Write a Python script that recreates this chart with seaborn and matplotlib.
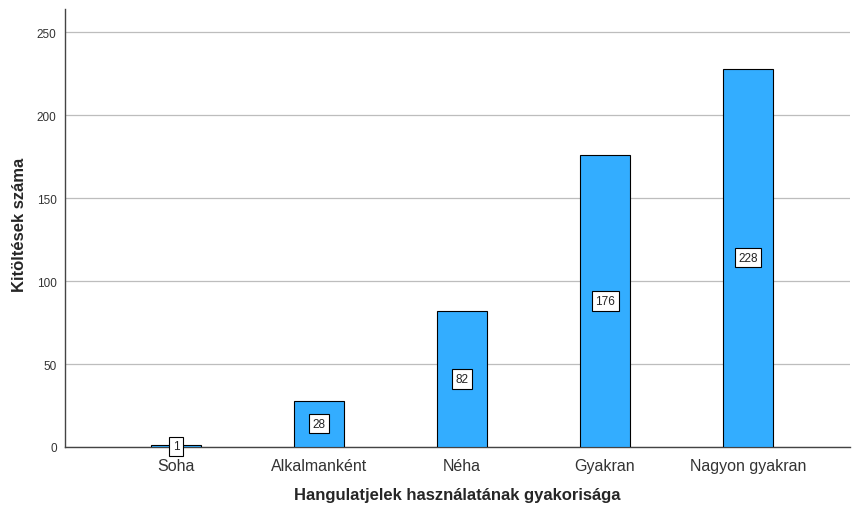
import pandas as pd
import matplotlib
matplotlib.use("Agg")
import matplotlib.pyplot as plt
import seaborn as sns

# --- Data ---
categories = ["Soha", "Alkalmanként", "Néha", "Gyakran", "Nagyon gyakran"]
counts = [1, 28, 82, 176, 228]
y_ticks = [0, 50, 100, 150, 200, 250]

X_LABEL = "Hangulatjelek használatának gyakorisága"
Y_LABEL = "Kitöltések száma"
BAR_COLOR = "#33ADFF"

sns.set_style("white")
plt.rcParams["font.family"] = ["Liberation Sans", "DejaVu Sans"]

df = pd.DataFrame({"cat": categories, "n": counts})

fig = plt.figure(figsize=(8.52, 5.10), dpi=100)
ax = fig.add_axes([0.0763, 0.1216, 0.9214, 0.8588])

sns.barplot(data=df, x="cat", y="n", order=categories, color=BAR_COLOR,
            saturation=1, width=0.35, edgecolor="black", linewidth=0.8,
            ax=ax, zorder=3)

ax.set_ylim(0, 264)
ax.set_xlim(-0.776, 4.713)
ax.set_yticks(y_ticks)
ax.yaxis.grid(True, color="#BDBDBD", linewidth=0.9, zorder=0)
ax.set_axisbelow(True)

# value labels in white boxes at mid-height of each bar
for i, v in enumerate(counts):
    ax.text(i, v / 2, str(v), ha="center", va="center", fontsize=8.5,
            color="#222222", zorder=5,
            bbox=dict(boxstyle="square,pad=0.3", fc="white", ec="black", lw=0.8))

ax.tick_params(axis="x", labelsize=11.5, length=0, pad=8, colors="#333333")
ax.tick_params(axis="y", labelsize=8.5, length=0, pad=6, colors="#333333")
ax.set_xlabel(X_LABEL, fontsize=12, fontweight="bold")
ax.set_ylabel(Y_LABEL, fontsize=12, fontweight="bold")
ax.yaxis.set_label_coords(-0.049, 0.51)
ax.xaxis.set_label_coords(0.5, -0.091)

for side in ["top", "right"]:
    ax.spines[side].set_visible(False)
for side in ["left", "bottom"]:
    ax.spines[side].set_color("#444444")
    ax.spines[side].set_linewidth(1.0)

fig.savefig("out.png", dpi=100)
